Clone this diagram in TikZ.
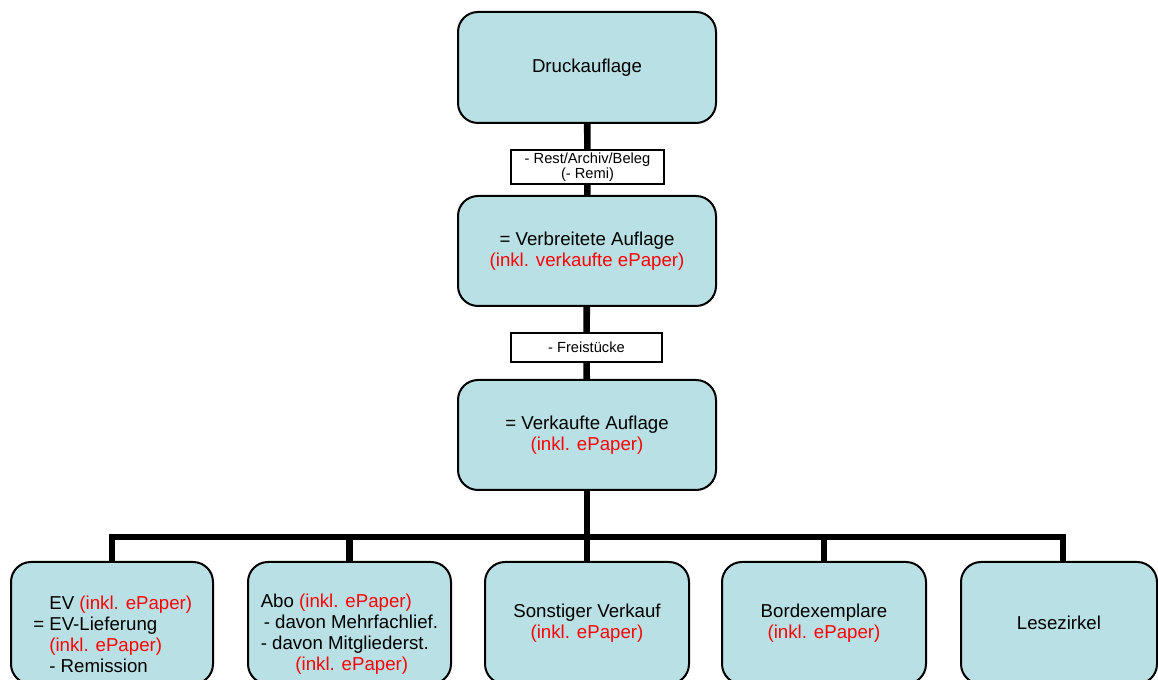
\documentclass[tikz,border=0pt]{standalone}
\usepackage{fontspec}
\setmainfont{Liberation Sans}
\definecolor{boxfill}{RGB}{185,224,228}
\newcommand{\inkl}[1]{\textcolor{red}{#1}}
\begin{document}
\begin{tikzpicture}[x=0.75pt, y=-0.75pt, line join=miter]
		\tikzstyle{box} = [rectangle, rounded corners=15pt, draw, line width=1.5pt, fill=boxfill, align=center, font=\fontsize{14}{15.75}\selectfont]
		\tikzstyle{minus} = [rectangle, draw, line width=1.1pt, fill=white, align=center, font=\fontsize{11}{11.6}\selectfont, inner sep=0pt]
		\tikzstyle{txt} = [align=left, anchor=west, inner sep=0pt, font=\fontsize{14}{15.75}\selectfont]
		\tikzstyle{conn} = [line width=5pt]
		\clip (0,0) rectangle (1158,680);
		% chain
		\node[box, minimum width=193.5pt, minimum height=83.25pt](D) at (587,67.5) {Druckauflage};
		\node[minus, minimum width=114.75pt, minimum height=25.5pt](L1) at (587.5,167) {- Rest/Archiv/Beleg\\(- Remi)};
		\node[box, minimum width=193.5pt, minimum height=82.5pt](V) at (587,251) {= Verbreitete Auflage\\\inkl{(inkl. verkaufte ePaper)}};
		\node[minus, minimum width=113.25pt, minimum height=21.75pt](L2) at (586.5,347.5) {- Freistücke};
		\node[box, minimum width=193.5pt, minimum height=82.5pt](K) at (587,435) {= Verkaufte Auflage\\\inkl{(inkl. ePaper)}};
		% bottom row
		\node[box, minimum width=151.5pt, minimum height=91.5pt](B1) at (112,623) {};
		\node[box, minimum width=152.25pt, minimum height=91.5pt](B2) at (349.5,623) {};
		\node[box, minimum width=153pt, minimum height=91.5pt](B3) at (587,623) {Sonstiger Verkauf\\\inkl{(inkl. ePaper)}};
		\node[box, minimum width=153pt, minimum height=91.5pt](B4) at (824,623) {Bordexemplare\\\inkl{(inkl. ePaper)}};
		\node[box, minimum width=147pt, minimum height=91.5pt](B5) at (1059,623) {Lesezirkel};
		\node[txt](T1) at (33,634) {\hphantom{= }EV \inkl{(inkl. ePaper)}\\= EV-Lieferung\\\hphantom{= }\inkl{(inkl. ePaper)}\\\hphantom{= }- Remission};
		\node[txt](T2) at (260.5,634) {Abo \inkl{(inkl. ePaper)}\\\hspace{2.25pt}- davon Mehrfachlief.\\- davon Mitgliederst.\\\hspace{26pt}\inkl{(inkl. ePaper)}};
		% connectors
		\coordinate (bus) at (587,537);
		\draw[conn] (D) -- (L1);
		\draw[conn] (L1) -- (V);
		\draw[conn] (V) -- (L2);
		\draw[conn] (L2) -- (K);
		\draw[conn] (K.south) -- (bus);
		\foreach \b in {B1,B2,B3,B4} \draw[conn] (\b.north) |- (bus);
		\draw[conn] ([xshift=3pt]B5.north) |- (bus);
	\end{tikzpicture}
\end{document}
